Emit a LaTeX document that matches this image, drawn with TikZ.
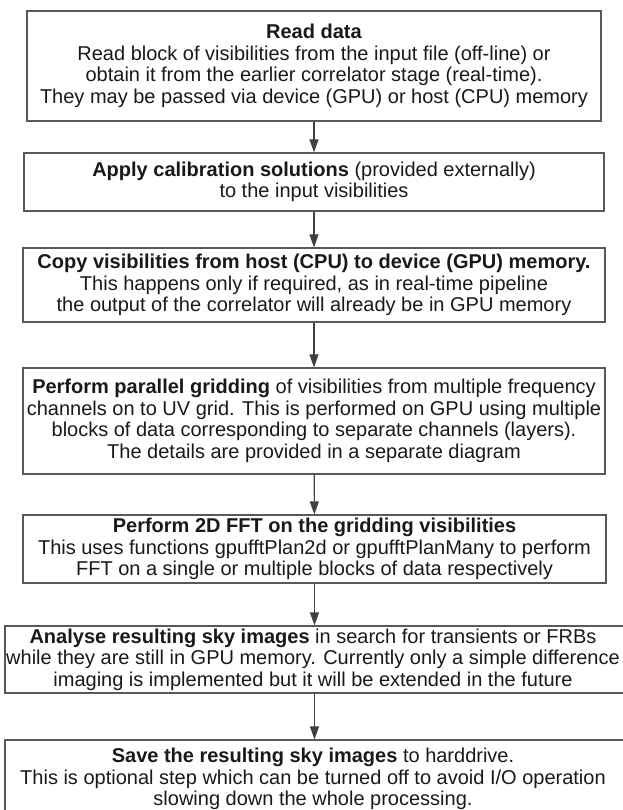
\documentclass[tikz,border=0pt]{standalone}
\usepackage{fontspec}
\setmainfont{Liberation Sans}
\usetikzlibrary{arrows.meta}
\begin{document}
\begin{tikzpicture}[x=1pt,y=-1pt,
  boxtext/.style={align=center, inner sep=0pt,
    font=\fontsize{20}{21.5}\selectfont, text=black!90},
  stepbox/.style={boxtext, draw=black!65, line width=1.2pt},
  frame/.style={draw=black!65, line width=1.2pt, inner sep=0pt},
  flow/.style={draw=black!75, line width=1.1pt, -{Triangle[width=9pt,length=13pt]}}]
\useasboundingbox (0,0) rectangle (622,810);
\node[stepbox, minimum width=574pt, minimum height=110pt] (b1) at (314,66)
  {\textbf{Read data}\\Read block of visibilities from the input file (off-line) or\\obtain it from the earlier correlator stage (real-time).\\They may be passed via device (GPU) or host (CPU) memory};
\node[stepbox, minimum width=580pt, minimum height=58pt] (b2) at (314,182)
  {\textbf{Apply calibration solutions} (provided externally)\\to the input visibilities};
\node[stepbox, minimum width=582pt, minimum height=74pt] (b3) at (314,285)
  {\textbf{Copy visibilities from host (CPU) to device (GPU) memory.}\\This happens only if required, as in real-time pipeline\\the output of the correlator will already be in GPU memory};
\node[stepbox, minimum width=582pt, minimum height=106pt] (b4) at (314,421)
  {\textbf{Perform parallel gridding} of visibilities from multiple frequency\\channels on to UV grid. This is performed on GPU using multiple\\blocks of data corresponding to separate channels (layers).\\The details are provided in a separate diagram};
\node[stepbox, minimum width=583pt, minimum height=68pt] (b5) at (314.5,549)
  {\textbf{Perform 2D FFT on the gridding visibilities}\\This uses functions gpufftPlan2d or gpufftPlanMany to perform\\FFT on a single or multiple blocks of data respectively};
\node[frame, minimum width=640pt, minimum height=67pt] (b6) at (325,659.5) {};
\node[boxtext] (t6) at (313,659.5)
  {\textbf{Analyse resulting sky images} in search for transients or FRBs\\while they are still in GPU memory. Currently only a simple difference\\imaging is implemented but it will be extended in the future};
\node[frame, minimum width=640pt, minimum height=78pt] (b7) at (325,779) {};
\node[boxtext] (t7) at (313,779)
  {\textbf{Save the resulting sky images} to harddrive.\\This is optional step which can be turned off to avoid I/O operation\\slowing down the whole processing.};
\draw[flow] (b1) -- (b2);
\draw[flow] (b2) -- (b3);
\draw[flow] (b3) -- (b4);
\draw[flow] (b4) -- (b5);
\draw[flow] (b5.south) -- (b5.south |- b6.north);
\draw[flow] (b6.south -| b5.south) -- (b5.south |- b7.north);
\end{tikzpicture}
\end{document}
